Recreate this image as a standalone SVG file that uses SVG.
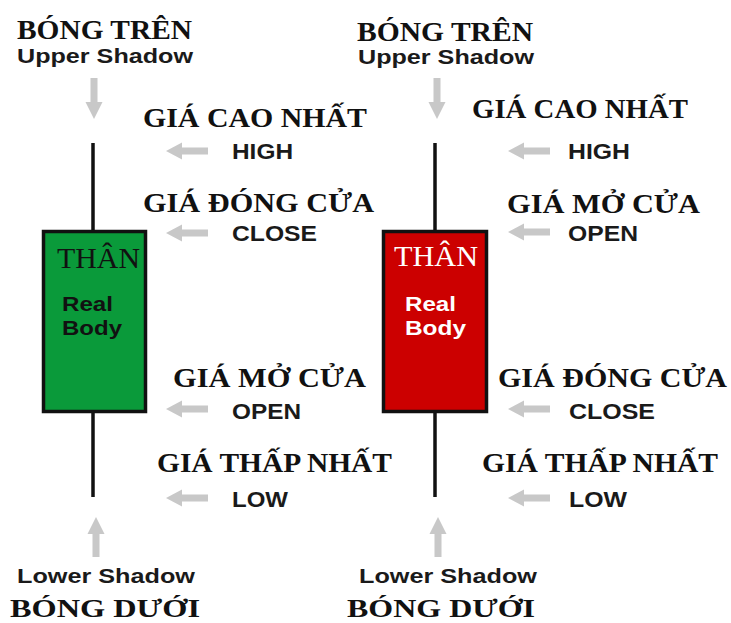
<svg xmlns="http://www.w3.org/2000/svg" xmlns:xlink="http://www.w3.org/1999/xlink" width="731" height="623" viewBox="0 0 731 623">
<style>
.vi{font-family:"Liberation Serif","DejaVu Serif",serif;font-weight:bold;font-size:28px;fill:#111;}
.vb{font-size:26px;}
.en{font-family:"Liberation Sans",Arial,sans-serif;font-weight:bold;font-size:21px;fill:#1a1a1a;}
.lbl{font-family:"Liberation Sans",Arial,sans-serif;font-weight:bold;font-size:22px;fill:#1a1a1a;}
.arrow{fill:#c8c8c8;}
.wick{stroke:#111;stroke-width:3.5;fill:none;}
.body{stroke:#111;stroke-width:3.5;}
.than{font-family:"Liberation Serif","DejaVu Serif",serif;font-size:29px;}
.rb{font-family:"Liberation Sans",Arial,sans-serif;font-weight:bold;font-size:21px;}
</style>
<defs>
<path id="la" d="M0,0 L16,-8.5 L16,-3.5 L42,-3.5 L42,3.5 L16,3.5 L16,8.5 Z"/>
<path id="da" d="M-3.5,0 L3.5,0 L3.5,24 L8.5,24 L0,41 L-8.5,24 L-3.5,24 Z"/>
<path id="ua" d="M-3.5,40 L3.5,40 L3.5,17 L8.5,17 L0,0 L-8.5,17 L-3.5,17 Z"/>
</defs>
<rect width="731" height="623" fill="#ffffff"/>

<g id="connectors">
  <use xlink:href="#da" class="arrow" x="94" y="78"/>
  <use xlink:href="#da" class="arrow" x="437" y="78"/>
  <use xlink:href="#ua" class="arrow" x="96" y="517"/>
  <use xlink:href="#ua" class="arrow" x="438" y="517"/>
  <use xlink:href="#la" class="arrow" x="166" y="151"/>
  <use xlink:href="#la" class="arrow" x="166" y="233"/>
  <use xlink:href="#la" class="arrow" x="166" y="409"/>
  <use xlink:href="#la" class="arrow" x="166" y="498"/>
  <use xlink:href="#la" class="arrow" x="508" y="151"/>
  <use xlink:href="#la" class="arrow" x="508" y="232"/>
  <use xlink:href="#la" class="arrow" x="508" y="409"/>
  <use xlink:href="#la" class="arrow" x="508" y="498"/>
</g>

<g id="candle-green">
  <line class="wick" x1="93" y1="143" x2="93" y2="232"/>
  <line class="wick" x1="93" y1="411" x2="93" y2="497"/>
  <rect class="body" x="43.5" y="231.5" width="102" height="180" fill="#0a9a3a"/>
  <text class="than" x="57" y="268" fill="#111" textLength="83" lengthAdjust="spacingAndGlyphs">THÂN</text>
  <text class="rb" x="62" y="311" fill="#111" textLength="51" lengthAdjust="spacingAndGlyphs">Real</text>
  <text class="rb" x="62" y="335" fill="#111" textLength="60" lengthAdjust="spacingAndGlyphs">Body</text>
</g>

<g id="candle-red">
  <line class="wick" x1="435" y1="143" x2="435" y2="232"/>
  <line class="wick" x1="435" y1="411" x2="435" y2="497"/>
  <rect class="body" x="383.5" y="231.5" width="103" height="180" fill="#cc0000"/>
  <text class="than" x="394" y="266" fill="#ffffff" textLength="84" lengthAdjust="spacingAndGlyphs">THÂN</text>
  <text class="rb" x="405" y="311" fill="#ffffff" textLength="51" lengthAdjust="spacingAndGlyphs">Real</text>
  <text class="rb" x="405" y="335" fill="#ffffff" textLength="61" lengthAdjust="spacingAndGlyphs">Body</text>
</g>

<g id="left-upper">
  <text class="vi" x="17" y="39" textLength="175" lengthAdjust="spacingAndGlyphs">BÓNG TRÊN</text>
  <text class="en" x="17" y="63" textLength="176" lengthAdjust="spacingAndGlyphs">Upper Shadow</text>
</g>
<g id="left-high">
  <text class="vi" x="143" y="127" textLength="224" lengthAdjust="spacingAndGlyphs">GIÁ CAO NHẤT</text>
  <text class="lbl" x="232" y="159" textLength="61" lengthAdjust="spacingAndGlyphs">HIGH</text>
</g>
<g id="left-close">
  <text class="vi" x="143" y="212" textLength="231" lengthAdjust="spacingAndGlyphs">GIÁ ĐÓNG CỬA</text>
  <text class="lbl" x="232" y="241" textLength="85" lengthAdjust="spacingAndGlyphs">CLOSE</text>
</g>
<g id="left-open">
  <text class="vi" x="173" y="387" textLength="193" lengthAdjust="spacingAndGlyphs">GIÁ MỞ CỬA</text>
  <text class="lbl" x="232" y="419" textLength="69" lengthAdjust="spacingAndGlyphs">OPEN</text>
</g>
<g id="left-low">
  <text class="vi" x="157" y="472" textLength="235" lengthAdjust="spacingAndGlyphs">GIÁ THẤP NHẤT</text>
  <text class="lbl" x="232" y="507" textLength="56" lengthAdjust="spacingAndGlyphs">LOW</text>
</g>
<g id="left-lower">
  <text class="en" x="17" y="583" textLength="178" lengthAdjust="spacingAndGlyphs">Lower Shadow</text>
  <text class="vi vb" x="10" y="617" textLength="190" lengthAdjust="spacingAndGlyphs">BÓNG DƯỚI</text>
</g>

<g id="right-upper">
  <text class="vi" x="357" y="41" textLength="176" lengthAdjust="spacingAndGlyphs">BÓNG TRÊN</text>
  <text class="en" x="358" y="64" textLength="176" lengthAdjust="spacingAndGlyphs">Upper Shadow</text>
</g>
<g id="right-high">
  <text class="vi" x="472" y="118" textLength="216" lengthAdjust="spacingAndGlyphs">GIÁ CAO NHẤT</text>
  <text class="lbl" x="568" y="159" textLength="62" lengthAdjust="spacingAndGlyphs">HIGH</text>
</g>
<g id="right-open">
  <text class="vi" x="507" y="213" textLength="193" lengthAdjust="spacingAndGlyphs">GIÁ MỞ CỬA</text>
  <text class="lbl" x="568" y="241" textLength="70" lengthAdjust="spacingAndGlyphs">OPEN</text>
</g>
<g id="right-close">
  <text class="vi" x="498" y="387" textLength="229" lengthAdjust="spacingAndGlyphs">GIÁ ĐÓNG CỬA</text>
  <text class="lbl" x="569" y="419" textLength="86" lengthAdjust="spacingAndGlyphs">CLOSE</text>
</g>
<g id="right-low">
  <text class="vi" x="482" y="472" textLength="236" lengthAdjust="spacingAndGlyphs">GIÁ THẤP NHẤT</text>
  <text class="lbl" x="569" y="507" textLength="58" lengthAdjust="spacingAndGlyphs">LOW</text>
</g>
<g id="right-lower">
  <text class="en" x="359" y="583" textLength="178" lengthAdjust="spacingAndGlyphs">Lower Shadow</text>
  <text class="vi vb" x="347" y="617" textLength="188" lengthAdjust="spacingAndGlyphs">BÓNG DƯỚI</text>
</g>
</svg>
